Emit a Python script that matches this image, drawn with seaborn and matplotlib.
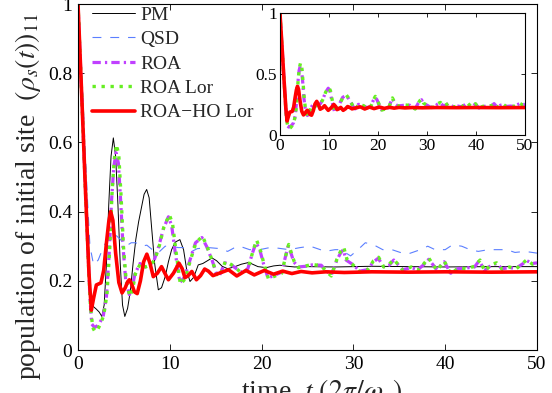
import numpy as np
import pandas as pd
import matplotlib
matplotlib.use('Agg')
import matplotlib.pyplot as plt
import seaborn as sns

# values (t in units of 2pi/omega_c)
pm_t = [0, 0.4, 0.8, 1.2, 1.45, 1.7, 2.0, 2.3, 2.6, 2.85, 3.1, 3.35, 3.6, 3.85, 4.1, 4.35, 4.6,
        4.85, 5.1, 5.4, 5.7, 6.0, 6.3, 6.6, 6.9, 7.2, 7.48, 7.75, 8.0, 8.35, 8.75, 9.1, 9.5,
        9.85, 10.2, 10.6, 11.1, 11.5, 11.85, 12.2, 12.6, 13.1, 13.6, 14.1, 14.6, 15.1, 15.7,
        16.3, 17.0, 17.8, 18.6, 19.6, 20.5, 21.3, 22.0, 22.8, 23.6, 25, 28, 32, 36, 40, 45, 50]
pm_y = [1.0, 0.74, 0.47, 0.22, 0.14, 0.125, 0.118, 0.11, 0.097, 0.13, 0.25, 0.42, 0.56, 0.613,
        0.56, 0.42, 0.25, 0.13, 0.097, 0.12, 0.17, 0.25, 0.32, 0.37, 0.41, 0.45, 0.464, 0.44,
        0.36, 0.25, 0.174, 0.18, 0.212, 0.255, 0.29, 0.312, 0.319, 0.29, 0.23, 0.198, 0.21,
        0.246, 0.25, 0.258, 0.266, 0.258, 0.242, 0.235, 0.24, 0.248, 0.253, 0.241, 0.238,
        0.243, 0.245, 0.242, 0.24, 0.241, 0.24, 0.242, 0.241, 0.24, 0.241, 0.241]

qsd_t = [0, 0.5, 1.0, 1.3, 1.7, 2.2, 2.8, 3.5, 4.0, 4.6, 5.2, 5.8, 6.3, 6.9, 7.5, 8.1, 8.7, 9.5,
         10.2, 10.9, 11.5, 12.4, 13.0, 14.2, 15.5, 16.3, 17.0, 17.6, 18.7, 19.8, 20.7, 21.6,
         23.0, 24.2, 25.3, 26.4, 26.9, 28.0, 28.5, 29.2, 29.7, 30.5, 31.3, 32.2, 33.2, 34.2,
         35.1, 36.0, 37.3, 38.1, 38.9, 40.0, 40.8, 41.8, 42.7, 43.6, 44.7, 45.6, 46.7, 47.6,
         48.7, 50]
qsd_y = [1.0, 0.75, 0.45, 0.30, 0.246, 0.26, 0.30, 0.33, 0.335, 0.32, 0.30, 0.31, 0.31, 0.30,
         0.303, 0.29, 0.28, 0.30, 0.30, 0.296, 0.296, 0.285, 0.293, 0.296, 0.293, 0.285, 0.295,
         0.30, 0.29, 0.29, 0.295, 0.295, 0.29, 0.296, 0.30, 0.29, 0.285, 0.29, 0.29, 0.28,
         0.272, 0.29, 0.31, 0.304, 0.29, 0.29, 0.282, 0.278, 0.29, 0.30, 0.29, 0.29, 0.304,
         0.30, 0.29, 0.285, 0.29, 0.29, 0.29, 0.282, 0.285, 0.28]

roa_t = [0, 0.4, 0.8, 1.1, 1.3, 1.5, 1.8, 2.1, 2.4, 2.76, 3.1, 3.4, 3.65, 3.9, 4.15, 4.4, 4.65,
         4.9, 5.2, 5.6, 5.9, 6.2, 6.75, 7.3, 7.8, 8.3, 8.8, 9.3, 9.85, 10.2, 10.6, 11.1, 11.6,
         12.2, 12.8, 13.5, 14.0, 14.6, 15.1, 15.4, 16.0, 16.5, 17.1, 17.8, 18.5, 19.0, 19.4,
         19.8, 20.2, 20.7, 21.3, 22.2, 22.6, 22.9, 23.2, 23.5, 24.0, 24.8, 25.5, 26.5, 27.0,
         27.6, 28.2, 28.6, 28.9, 29.2, 30.0, 30.7, 31.5, 32.2, 32.7, 33.3, 33.9, 34.4, 35.4,
         36.3, 37.0, 37.6, 38.2, 39.1, 39.9, 40.6, 41.4, 42.3, 43.2, 43.7, 44.3, 45.0, 45.6,
         46.2, 47.0, 47.7, 48.5, 48.9, 49.5, 50]
roa_y = [1.0, 0.74, 0.47, 0.28, 0.15, 0.075, 0.065, 0.07, 0.08, 0.10, 0.155, 0.28, 0.43, 0.53,
         0.57, 0.54, 0.43, 0.30, 0.20, 0.16, 0.18, 0.22, 0.25, 0.24, 0.245, 0.26, 0.30, 0.35,
         0.385, 0.36, 0.28, 0.195, 0.21, 0.26, 0.31, 0.325, 0.30, 0.26, 0.22, 0.215, 0.252,
         0.25, 0.238, 0.225, 0.235, 0.28, 0.31, 0.29, 0.25, 0.208, 0.215, 0.225, 0.27, 0.30,
         0.28, 0.255, 0.24, 0.242, 0.246, 0.245, 0.23, 0.217, 0.26, 0.28, 0.29, 0.26, 0.246,
         0.228, 0.232, 0.255, 0.265, 0.241, 0.245, 0.26, 0.232, 0.238, 0.232, 0.245, 0.262,
         0.232, 0.255, 0.222, 0.235, 0.237, 0.24, 0.258, 0.23, 0.245, 0.25, 0.235, 0.238,
         0.236, 0.25, 0.258, 0.25, 0.252]

lor_t = [0, 0.4, 0.8, 1.1, 1.35, 1.6, 1.85, 2.15, 2.45, 2.8, 3.15, 3.45, 3.7, 3.95, 4.2, 4.45,
         4.7, 4.95, 5.25, 5.65, 5.95, 6.25, 6.8, 7.35, 7.85, 8.35, 8.85, 9.35, 9.95, 10.3, 10.7,
         11.15, 11.65, 12.25, 12.85, 13.55, 14.05, 14.6, 15.1, 15.45, 16.05, 16.5, 17.1, 17.8,
         18.5, 19.05, 19.45, 19.85, 20.25, 20.75, 21.3, 22.2, 22.65, 22.95, 23.25, 23.55, 24.0,
         24.8, 25.5, 26.5, 27.0, 27.6, 28.2, 28.6, 28.95, 29.3, 30.0, 30.7, 31.5, 32.2, 32.75,
         33.3, 33.9, 34.4, 35.4, 36.3, 37.0, 37.6, 38.2, 39.1, 39.9, 40.6, 41.4, 42.3, 43.2,
         43.8, 44.3, 45.0, 45.6, 46.2, 47.0, 47.7, 48.5, 48.9, 49.5, 50]
lor_y = [1.0, 0.74, 0.47, 0.27, 0.13, 0.065, 0.053, 0.06, 0.075, 0.10, 0.16, 0.29, 0.45, 0.55,
         0.594, 0.56, 0.44, 0.30, 0.20, 0.155, 0.175, 0.22, 0.25, 0.24, 0.245, 0.26, 0.30, 0.355,
         0.391, 0.365, 0.28, 0.19, 0.205, 0.26, 0.31, 0.329, 0.30, 0.26, 0.22, 0.212, 0.256,
         0.25, 0.24, 0.222, 0.232, 0.285, 0.318, 0.29, 0.25, 0.205, 0.212, 0.222, 0.275, 0.305,
         0.28, 0.256, 0.238, 0.243, 0.247, 0.244, 0.228, 0.214, 0.262, 0.285, 0.297, 0.262,
         0.245, 0.226, 0.23, 0.258, 0.268, 0.24, 0.248, 0.262, 0.23, 0.24, 0.23, 0.247, 0.266,
         0.23, 0.257, 0.22, 0.236, 0.235, 0.242, 0.26, 0.228, 0.247, 0.252, 0.233, 0.24, 0.234,
         0.252, 0.261, 0.248, 0.254]

ho_t = [0, 0.4, 0.8, 1.2, 1.45, 1.7, 2.0, 2.5, 2.8, 3.1, 3.35, 3.56, 3.8, 4.1, 4.45, 4.8, 5.15,
        5.4, 5.6, 5.85, 6.15, 6.45, 6.8, 7.15, 7.5, 7.85, 8.2, 8.65, 9.1, 9.5, 9.85, 10.4, 11.0,
        11.35, 11.65, 12.0, 12.4, 12.9, 13.35, 13.8, 14.2, 14.7, 15.6, 16.4, 17.3, 18.3, 19.2,
        20.3, 21.3, 22.3, 23.3, 24.3, 25.5, 27, 29, 32, 36, 40, 45, 50]
ho_y = [1.0, 0.74, 0.47, 0.22, 0.115, 0.15, 0.188, 0.194, 0.23, 0.31, 0.37, 0.40, 0.375, 0.28,
        0.195, 0.165, 0.18, 0.197, 0.203, 0.19, 0.168, 0.163, 0.20, 0.255, 0.277, 0.25, 0.212,
        0.222, 0.241, 0.22, 0.203, 0.222, 0.251, 0.235, 0.209, 0.215, 0.227, 0.203, 0.215,
        0.234, 0.228, 0.215, 0.224, 0.232, 0.214, 0.230, 0.217, 0.230, 0.219, 0.228, 0.221,
        0.227, 0.223, 0.226, 0.224, 0.226, 0.225, 0.226, 0.225, 0.226]

labels = ['PM', 'QSD', 'ROA', 'ROA Lor', 'ROA\u2212HO Lor']
xticks = [0, 10, 20, 30, 40, 50]
yticks = [0, 0.2, 0.4, 0.6, 0.8, 1]

sns.set_theme(style="white")
plt.rcParams['font.family'] = ['Liberation Serif', 'DejaVu Serif']
plt.rcParams['mathtext.fontset'] = 'stix'
plt.rcParams['axes.edgecolor'] = 'black'
plt.rcParams['axes.linewidth'] = 0.8

series = [
    (pm_t, pm_y, dict(color='black', lw=0.7, linestyle='-')),
    (qsd_t, qsd_y, dict(color='#5b7fff', lw=0.8, linestyle=(0, (8, 8)))),
    (roa_t, roa_y, dict(color='#c040ff', lw=2.3, linestyle=(0, (2.6, 1.3, 0.7, 1.3)))),
    (lor_t, lor_y, dict(color='#66ee22', lw=2.4, linestyle=(0, (1, 1.7)))),
    (ho_t, ho_y, dict(color='#ff0000', lw=2.6, linestyle='-')),
]

fig = plt.figure(figsize=(5.52, 3.93), dpi=100)
ax = fig.add_axes([0.1413, 0.1094, 0.8315, 0.8804])
for (t, y, kw), lab in zip(series, labels):
    sns.lineplot(x=t, y=y, ax=ax, label=lab, sort=False, estimator=None, **kw)

ax.set_xlim(0, 50)
ax.set_ylim(0, 1)
ax.set_xticks(xticks)
ax.set_yticks(yticks)
ax.set_xticklabels([str(v) for v in xticks])
ax.set_yticklabels(['0', '0.2', '0.4', '0.6', '0.8', '1'])
ax.tick_params(direction='in', top=True, right=True, bottom=True, left=True,
               length=4, width=0.6, labelsize=14, pad=4, colors='black')
for s in ax.spines.values():
    s.set_visible(True)
    s.set_color('black')

ax.set_ylabel('population of initial site  $(\\rho_s(t))_{11}$', fontsize=20)
ax.yaxis.set_label_coords(-0.076, 0.445)
ax.set_xlabel('time  $t$ $(2\\pi/\\omega_c)$', fontsize=20, va='top')
ax.xaxis.set_label_coords(0.532, -0.078)

ax.legend(loc='upper left', bbox_to_anchor=(0.03, 0.994), frameon=False, fontsize=14,
          handlelength=2.2, handletextpad=0.3, labelspacing=0.35, borderpad=0,
          borderaxespad=0)

# inset: ROA curves over the full range
axin = fig.add_axes([0.5072, 0.6565, 0.4438, 0.3092])
for (t, y, kw), lab in list(zip(series, labels))[2:]:
    sns.lineplot(x=t, y=y, ax=axin, sort=False, estimator=None, legend=False, **kw)
axin.set_xlim(0, 50)
axin.set_ylim(0, 1)
axin.set_xticks(xticks)
axin.set_yticks([0, 0.5, 1])
axin.set_xticklabels([str(v) for v in xticks])
axin.set_yticklabels(['0', '0.5', '1'])
axin.set_xlabel('')
axin.set_ylabel('')
axin.tick_params(direction='in', top=True, right=True, bottom=True, left=True,
                 length=3, width=0.6, labelsize=12.5, pad=2, colors='black')
for s in axin.spines.values():
    s.set_visible(True)
    s.set_color('black')

fig.savefig('out.png', dpi=100)
